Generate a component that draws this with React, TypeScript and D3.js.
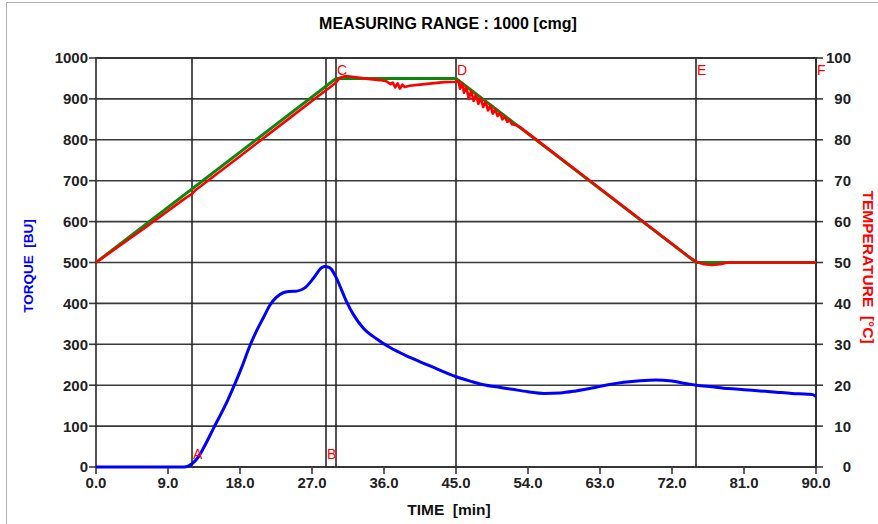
import React from "react";
import * as d3 from "d3";

const torqueTicks = [0, 100, 200, 300, 400, 500, 600, 700, 800, 900, 1000];
const tempTicks = [0, 10, 20, 30, 40, 50, 60, 70, 80, 90, 100];
const timeTicks = [0, 9, 18, 27, 36, 45, 54, 63, 72, 81, 90];

const eventNames = ["A", "B", "C", "D", "E", "F"];
const eventTimes = [12, 28.75, 30, 45, 75, 90];
const eventAtBottom = [true, true, false, false, false, false];

const torqueTime = [0, 11.0, 11.5, 12, 12.8, 13.4, 14.7, 16.5, 17.4, 18.2, 19.25, 20.1, 21.0, 21.75, 22.5, 23.4, 24.2, 25.1, 26.1, 27.2, 28.2, 28.6, 29.0, 29.4, 29.7, 30.1, 30.5, 31.3, 32.2, 33.4, 35.1, 36.75, 39.25, 41.75, 45.1, 46.75, 48, 50, 52, 54, 56, 58, 60, 62, 64, 66, 68, 70, 72, 73.5, 75, 77, 79, 81, 83, 85, 87, 89, 89.6, 90];
const torqueValue = [0, 0, 2, 8, 25, 45, 95, 165, 205, 243, 297, 334, 368, 396, 414, 426, 429, 430, 438, 462, 487, 490, 489, 484, 475, 460, 442, 405, 372, 340, 313, 292, 268, 247, 220, 210, 203, 196, 190, 184, 180, 181, 186, 193, 201, 207, 211, 213, 210, 205, 200, 196, 192, 189, 186, 183, 180, 178, 177, 172];

const targetTime = [0, 30, 45, 75, 90];
const targetTemp = [50, 95, 95, 50, 50];

const actualTime = [0, 6, 11, 12, 12.5, 18, 24, 28, 29.5, 30.0, 30.5, 31.2, 32.5, 34, 35.5, 36.3, 36.8, 37.1, 37.4, 37.7, 38.0, 38.3, 38.6, 39.2, 40.5, 42, 43.5, 45.0, 45.3, 45.5, 45.8, 46.0, 46.3, 46.6, 46.9, 47.2, 47.5, 47.8, 48.1, 48.4, 48.7, 49.0, 49.3, 49.6, 49.9, 50.2, 50.5, 50.8, 51.1, 51.4, 51.7, 52.0, 52.5, 53, 55, 60, 65, 70, 74, 75, 76, 77, 78, 79, 90];
const actualTemp = [50, 58.3, 65.5, 66.8, 67.8, 76, 85, 91, 93.2, 94.0, 95.2, 95.6, 95.3, 94.9, 94.6, 94.3, 93.6, 94.0, 92.8, 93.8, 92.5, 93.5, 92.9, 93.2, 93.5, 93.8, 94.1, 94.2, 94.5, 92.5, 93.8, 91.5, 92.9, 90.0, 92.0, 89.5, 91.1, 88.8, 90.2, 88.0, 89.3, 87.2, 88.4, 86.4, 87.5, 85.8, 86.6, 85.0, 85.7, 84.4, 84.8, 83.8, 83.6, 83.1, 80.1, 72.6, 65.1, 57.6, 51.6, 50.2, 49.6, 49.4, 49.6, 50, 50];

const FONT = "'Liberation Sans', Arial, sans-serif";

export default function App() {
  const x = d3.scaleLinear().domain([0, 90]).range([96, 816]);
  const yT = d3.scaleLinear().domain([0, 1000]).range([467, 58]);
  const yC = d3.scaleLinear().domain([0, 100]).range([467, 58]);

  const torquePts: [number, number][] = torqueTime.map((t, i) => [t, torqueValue[i]]);
  const targetPts: [number, number][] = targetTime.map((t, i) => [t, targetTemp[i]]);
  const actualPts: [number, number][] = actualTime.map((t, i) => [t, actualTemp[i]]);

  const torqueLine = d3.line<[number, number]>().x(d => x(d[0])).y(d => yT(d[1])).curve(d3.curveMonotoneX);
  const tempLine = d3.line<[number, number]>().x(d => x(d[0])).y(d => yC(d[1]));

  const [x0, x1] = x.range();
  const [yb, yt] = yT.range();

  return (
    <svg width={878} height={524} style={{ position: "absolute", left: 0, top: 0, background: "#fff" }} fontFamily={FONT}>
      <rect x={0} y={0} width={878} height={524} fill="#fff" />
      <line x1={6.5} y1={2.5} x2={878} y2={2.5} stroke="#b0b0b0" />
      <line x1={6.5} y1={2.5} x2={6.5} y2={524} stroke="#b0b0b0" />

      <text x={448} y={29} textAnchor="middle" fontSize={16} fontWeight="bold" fill="#000">MEASURING RANGE : 1000 [cmg]</text>

      {torqueTicks.map(v => (
        <line key={"g" + v} x1={x0} x2={x1} y1={yT(v)} y2={yT(v)} stroke="#3a3a3a" strokeWidth={1.6} />
      ))}
      {torqueTicks.map(v => (
        <g key={"l" + v}>
          <line x1={x0 - 7} x2={x0} y1={yT(v)} y2={yT(v)} stroke="#3a3a3a" strokeWidth={1.6} />
          <text x={88} y={yT(v)} dy="0.36em" textAnchor="end" fontSize={15} fontWeight="bold" fill="#222">{v}</text>
        </g>
      ))}
      {tempTicks.map(v => (
        <g key={"r" + v}>
          <line x1={x1} x2={x1 + 7} y1={yC(v)} y2={yC(v)} stroke="#3a3a3a" strokeWidth={1.6} />
          <text x={851} y={yC(v)} dy="0.36em" textAnchor="end" fontSize={15} fontWeight="bold" fill="#222">{v}</text>
        </g>
      ))}
      {timeTicks.map(v => (
        <g key={"x" + v}>
          <line x1={x(v)} x2={x(v)} y1={yb} y2={yb + 7} stroke="#3a3a3a" strokeWidth={1.6} />
          <text x={x(v)} y={488} textAnchor="middle" fontSize={15} fontWeight="bold" fill="#222">{v.toFixed(1)}</text>
        </g>
      ))}

      {eventTimes.map((t, i) => (
        <line key={"e" + i} x1={x(t)} x2={x(t)} y1={yt} y2={yb} stroke="#1a1a1a" strokeWidth={1.5} />
      ))}

      <rect x={x0} y={yt} width={x1 - x0} height={yb - yt} fill="none" stroke="#2a2a2a" strokeWidth={1.6} />

      <path d={tempLine(targetPts) || ""} fill="none" stroke="#0a8a0a" strokeWidth={3} />
      <path d={tempLine(actualPts) || ""} fill="none" stroke="#ff0000" strokeWidth={2.6} strokeLinejoin="round" />
      <path d={torqueLine(torquePts) || ""} fill="none" stroke="#0000ff" strokeWidth={3} />

      {eventNames.map((n, i) => (
        <text key={"n" + i} x={x(eventTimes[i]) + 1} y={eventAtBottom[i] ? 459 : 75} fontSize={14} fill="#ff0000">{n}</text>
      ))}

      <text x={449} y={515} textAnchor="middle" fontSize={15.5} fontWeight="bold" fill="#111" style={{ whiteSpace: "pre" }}>TIME  [min]</text>
      <text transform="translate(33,266) rotate(-90)" textAnchor="middle" fontSize={13.5} fontWeight="bold" fill="#0000ff" style={{ whiteSpace: "pre" }}>TORQUE  [BU]</text>
      <text transform="translate(863,267) rotate(90)" textAnchor="middle" fontSize={15.5} fontWeight="bold" fill="#ff0000" style={{ whiteSpace: "pre" }}>TEMPERATURE  [°C]</text>
    </svg>
  );
}
